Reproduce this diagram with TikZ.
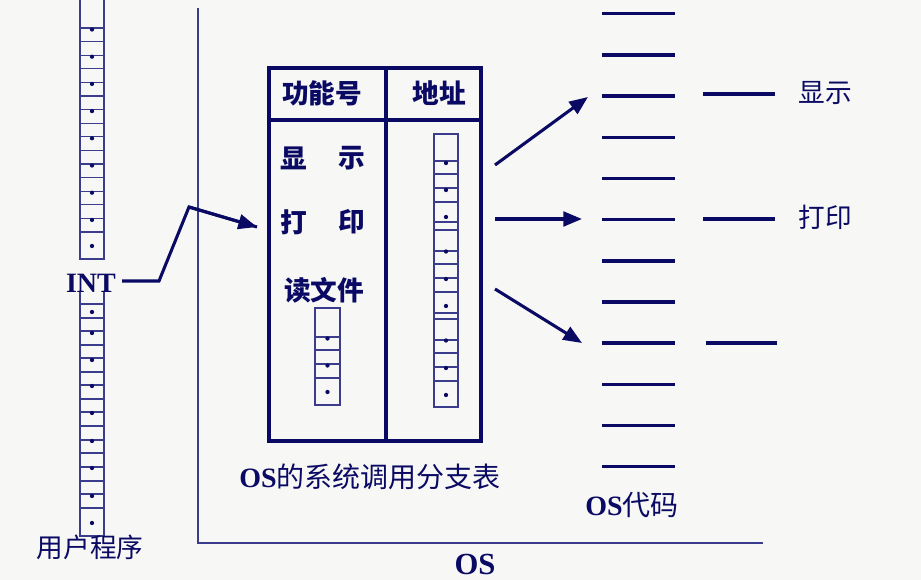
\documentclass[tikz,border=0pt]{standalone}
\usepackage{fontspec}
\setmainfont{Liberation Serif}
\newfontfamily\cjk{Noto Sans CJK SC}
\usetikzlibrary{arrows.meta}
\definecolor{navy}{RGB}{10,10,100}
\definecolor{thinblue}{RGB}{60,60,140}
\definecolor{bgcol}{RGB}{247,247,245}
\newcommand{\sdot}[2]{\fill[navy] (#1,#2) circle[radius=1.6pt];}
\begin{document}
\begin{tikzpicture}[x=0.75pt,y=-0.75pt,
  stripbox/.style={draw=thinblue,line width=1pt},
  stripline/.style={draw=thinblue,line width=1pt},
  codeline/.style={draw=navy,line width=2.6pt},
  tablebox/.style={draw=navy,line width=2.3pt},
  arr/.style={draw=navy,line width=2.3pt,-{Triangle[length=14pt,width=11pt]}},
  baseline/.style={draw=thinblue,line width=1.1pt},
  lat/.style={text=navy,font=\bfseries\fontsize{21}{24}\selectfont,inner sep=0pt},
  cj/.style={text=navy,font=\cjk\fontsize{20}{24}\selectfont,inner sep=0pt},
  cjb/.style={text=navy,font=\cjk\bfseries\fontsize{20}{24}\selectfont,inner sep=0pt}]
\fill[bgcol] (0,0) rectangle (921,580);
\useasboundingbox (0,0) rectangle (921,580);
% OS boundary
\coordinate (osTop) at (198,8);
\coordinate (osCorner) at (198,543);
\coordinate (osEnd) at (763,543);
\draw[baseline] (osTop) -- (osCorner) -- (osEnd);
% user program strip, upper part
\draw[stripbox] (80,-2) rectangle (104,259);
\foreach \k in {0,...,15} \draw[stripline] (80,28+13.6*\k) -- (104,28+13.6*\k);
\foreach \k in {0,...,7} \sdot{92}{29.5+27.2*\k};
\sdot{92}{246}
% user program strip, lower part
\draw[stripbox] (80,289) rectangle (104,536);
\foreach \y in {304,318,331,345,358,372,385,399,412,426,440,453,467,481,494,508} \draw[stripline] (80,\y) -- (104,\y);
\foreach \y in {312,333,360,386,413,441,468,496,523} \sdot{92}{\y};
% INT
\node[lat,fill=bgcol,inner sep=0pt] (int) at (91,283) {INT};
\node[cj] (user) at (90,547) {用户程序};
\coordinate (i1) at (122,281);
\coordinate (i2) at (159,281);
\coordinate (i3) at (189,207);
\coordinate (i4) at (257,227);
\draw[draw=navy,line width=2.3pt,line join=miter] (i1) -- (i2) -- (i3) -- (i4);
\draw[arr] (i3) -- (i4);
% table
\draw[tablebox] (269,68) rectangle (481,441);
\coordinate (divTop) at (386,68);
\coordinate (divBot) at (386,441);
\draw[tablebox] (divTop) -- (divBot);
\coordinate (hdL) at (269,120);
\coordinate (hdR) at (481,120);
\draw[tablebox] (hdL) -- (hdR);
\node[cjb] (hfn) at (322,93) {功能号};
\node[cjb] (had) at (439,93) {地址};
\node[cjb] (f1a) at (294,158) {显};
\node[cjb] (f1b) at (352,158) {示};
\node[cjb] (f2a) at (294,222) {打};
\node[cjb] (f2b) at (352,222) {印};
\node[cjb] (f3) at (324,290) {读文件};
% small strip in left column
\draw[stripbox] (315,308) rectangle (340,405);
\foreach \y in {337,350,364,378} \draw[stripline] (315,\y) -- (340,\y);
\foreach \y in {338.5,365.5,392} \sdot{327.5}{\y};
% address strip
\draw[stripbox] (434,134) rectangle (458,407);
\foreach \y in {161,174,188,202,222,230,251,264,278,292,313,319,340,353,367,381} \draw[stripline] (434,\y) -- (458,\y);
\foreach \y in {163,190,217,251.5,279,306,340.5,368,395} \sdot{446}{\y};
\node[lat,font=\fontsize{21}{24}\selectfont] (tabcap) at (370,477) {\textbf{OS}{\cjk 的系统调用分支表}};
% OS code lines
\foreach \k in {0,...,11} {
  \coordinate (cl\k) at (602,13.7+41.18*\k);
  \coordinate (cr\k) at (675,13.7+41.18*\k);
  \draw[codeline] (cl\k) -- (cr\k);
}
\node[lat,font=\fontsize{21}{24}\selectfont] (oscode) at (632,505) {\textbf{OS}{\cjk 代码}};
\node[lat,font=\bfseries\fontsize{23}{26}\selectfont] (os) at (475,564) {OS};
% arrows from table to code
\coordinate (a1s) at (495,165);
\coordinate (a1e) at (588,97);
\coordinate (a2s) at (495,219);
\coordinate (a2e) at (582,219);
\coordinate (a3s) at (495,289);
\coordinate (a3e) at (582,343);
\draw[arr] (a1s) -- (a1e);
\draw[arr] (a2s) -- (a2e);
\draw[arr] (a3s) -- (a3e);
% right-hand lines and labels
\coordinate (r1l) at (703,94);  \coordinate (r1r) at (775,94);
\coordinate (r2l) at (703,219); \coordinate (r2r) at (775,219);
\coordinate (r3l) at (706,343); \coordinate (r3r) at (777,343);
\draw[draw=navy,line width=2.3pt] (r1l) -- (r1r);
\draw[draw=navy,line width=2.3pt] (r2l) -- (r2r);
\draw[draw=navy,line width=2.3pt] (r3l) -- (r3r);
\node[cj] (lshow) at (825,93) {显示};
\node[cj] (lprint) at (825,217) {打印};
\end{tikzpicture}
\end{document}
